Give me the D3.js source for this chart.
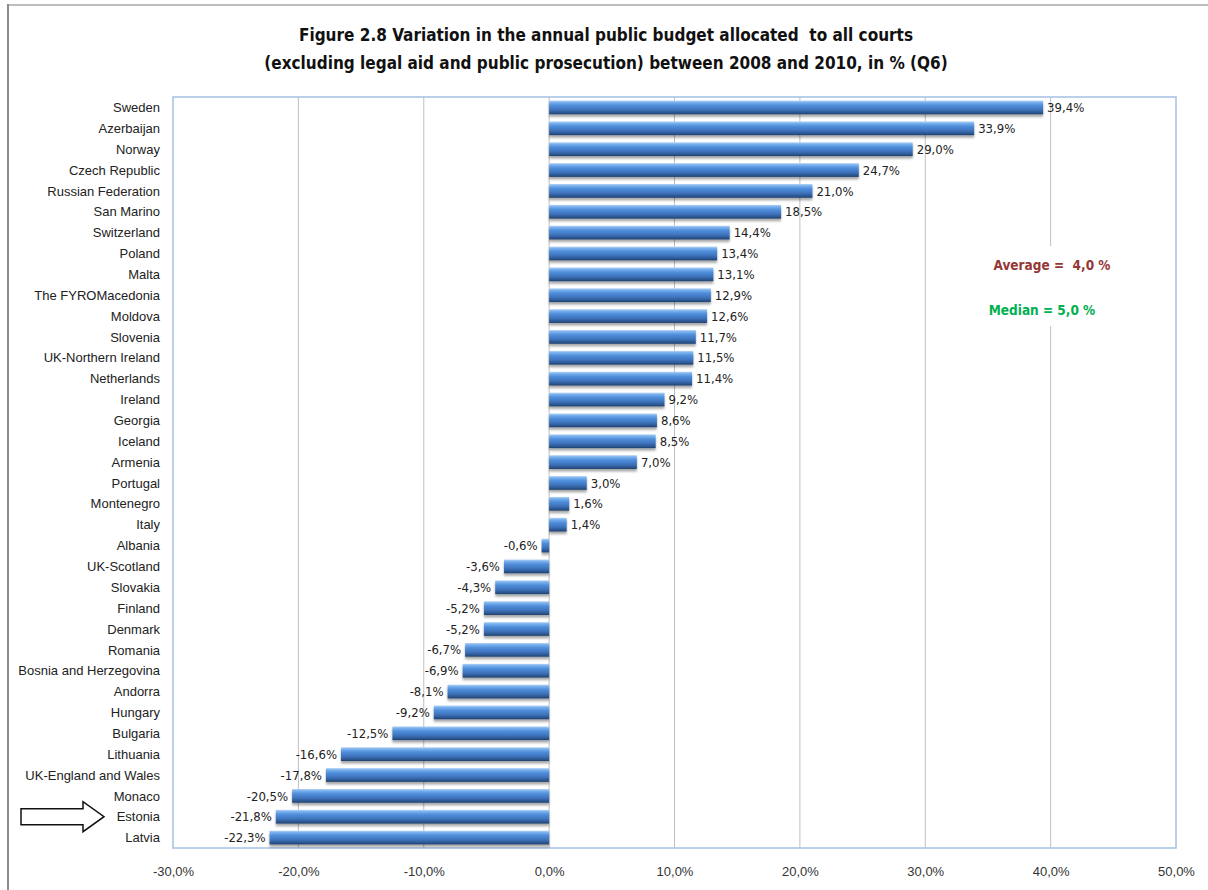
<!DOCTYPE html>
<html>
<head>
<meta charset="utf-8">
<script src="https://cdn.jsdelivr.net/npm/d3@7"></script>
<style>
  body { margin: 0; background: #fff; }
  svg { display: block; font-family: "DejaVu Sans Condensed", "Liberation Sans Narrow", sans-serif; }
  svg text { white-space: pre; }
  .grid line { stroke: #c0c0c0; stroke-width: 1; }
  .axis text { font-size: 13px; fill: #333; }
  .cat text { font-size: 13px; fill: #222; }
  .val { font-size: 13px; fill: #222; }
</style>
</head>
<body>
<svg class="chart"></svg>
<script>
// Chart data
const COUNTRIES = [
  "Sweden", "Azerbaijan", "Norway", "Czech Republic", "Russian Federation", "San Marino",
  "Switzerland", "Poland", "Malta", "The FYROMacedonia", "Moldova", "Slovenia",
  "UK-Northern Ireland", "Netherlands", "Ireland", "Georgia", "Iceland", "Armenia",
  "Portugal", "Montenegro", "Italy", "Albania", "UK-Scotland", "Slovakia",
  "Finland", "Denmark", "Romania", "Bosnia and Herzegovina", "Andorra", "Hungary",
  "Bulgaria", "Lithuania", "UK-England and Wales", "Monaco", "Estonia", "Latvia"
];
const VARIATION = [
  39.4, 33.9, 29.0, 24.7, 21.0, 18.5,
  14.4, 13.4, 13.1, 12.9, 12.6, 11.7,
  11.5, 11.4, 9.2, 8.6, 8.5, 7.0,
  3.0, 1.6, 1.4, -0.6, -3.6, -4.3,
  -5.2, -5.2, -6.7, -6.9, -8.1, -9.2,
  -12.5, -16.6, -17.8, -20.5, -21.8, -22.3
];
const X_TICKS = [-30, -20, -10, 0, 10, 20, 30, 40, 50];
const TITLE_LINES = [
  "Figure 2.8 Variation in the annual public budget allocated  to all courts",
  "(excluding legal aid and public prosecution) between 2008 and 2010, in % (Q6)"
];
const AVERAGE_TEXT = "Average =  4,0 %";
const MEDIAN_TEXT = "Median = 5,0 %";
const HIGHLIGHT = "Estonia";

const WIDTH = 1208, HEIGHT = 890;
const PLOT = { left: 173, right: 1176, top: 97, bottom: 848 };

const DATA = COUNTRIES.map((c, i) => ({ country: c, value: VARIATION[i] }));

const LOCALE = d3.formatLocale({ decimal: ",", thousands: ".", grouping: [3], currency: ["", "€"], minus: "-" });
const pct = v => LOCALE.format(".1f")(v) + "%";

const SVG = d3.select(".chart").attr("width", WIDTH).attr("height", HEIGHT);

const X_fxn = d3.scaleLinear().domain([-30, 50]).range([PLOT.left, PLOT.right]);
const Y_fxn = d3.scaleBand().domain(COUNTRIES).range([PLOT.top, PLOT.bottom]).paddingInner(0.34).paddingOuter(0.17);

// gradient + shadow for the excel-ish bars
const DEFS = SVG.append("defs");
const grad = DEFS.append("linearGradient").attr("id", "barGrad")
  .attr("x1", 0).attr("y1", 0).attr("x2", 0).attr("y2", 1);
[[0, "#b9d6f7"], [0.12, "#7db3ee"], [0.35, "#4f8edb"], [0.65, "#3f74bd"], [0.88, "#2b5690"], [1, "#1f3f6c"]]
  .forEach(s => grad.append("stop").attr("offset", s[0]).attr("stop-color", s[1]));
DEFS.append("filter").attr("id", "shadow").attr("x", "-5%").attr("y", "-30%").attr("width", "110%").attr("height", "180%")
  .append("feDropShadow").attr("dx", 0).attr("dy", 2.5).attr("stdDeviation", 1.2)
  .attr("flood-color", "#000").attr("flood-opacity", 0.35);

// outer frame
SVG.append("line").attr("x1", 7).attr("x2", WIDTH).attr("y1", 5).attr("y2", 5)
  .attr("stroke", "#bdbdbd").attr("stroke-width", 2);
SVG.append("line").attr("x1", 8).attr("x2", 8).attr("y1", 4).attr("y2", HEIGHT)
  .attr("stroke", "#8c8c8c").attr("stroke-width", 2);

// title
SVG.append("g").selectAll("text").data(TITLE_LINES).join("text")
  .attr("x", 606).attr("y", (d, i) => 41 + i * 28)
  .attr("text-anchor", "middle")
  .style("font-size", "17px").style("font-weight", "bold").style("fill", "#111")
  .text(d => d);

// gridlines
SVG.append("g").attr("class", "grid")
  .selectAll("line").data(X_TICKS.filter(t => t > -30 && t < 50)).join("line")
  .attr("x1", d => X_fxn(d)).attr("x2", d => X_fxn(d))
  .attr("y1", PLOT.top).attr("y2", PLOT.bottom);

// white box behind the average / median notes
SVG.append("rect").attr("x", 985).attr("y", 246).attr("width", 130).attr("height", 80).attr("fill", "#fff");
SVG.append("text").attr("x", 1052).attr("y", 270).attr("text-anchor", "middle")
  .style("font-size", "13.5px").style("font-weight", "bold").style("fill", "#953735")
  .text(AVERAGE_TEXT);
SVG.append("text").attr("x", 1042).attr("y", 315).attr("text-anchor", "middle")
  .style("font-size", "13.5px").style("font-weight", "bold").style("fill", "#00b050")
  .text(MEDIAN_TEXT);

// plot border
SVG.append("rect").attr("x", PLOT.left).attr("y", PLOT.top)
  .attr("width", PLOT.right - PLOT.left).attr("height", PLOT.bottom - PLOT.top)
  .attr("fill", "none").attr("stroke", "#a4c0e4").attr("stroke-width", 1.5);

// bars
SVG.append("g").selectAll("rect").data(DATA).join("rect")
  .attr("x", d => X_fxn(Math.min(0, d.value)))
  .attr("y", d => Y_fxn(d.country))
  .attr("width", d => Math.abs(X_fxn(d.value) - X_fxn(0)))
  .attr("height", Y_fxn.bandwidth())
  .attr("fill", "url(#barGrad)")
  .attr("filter", "url(#shadow)");

// value labels
SVG.append("g").selectAll("text").data(DATA).join("text")
  .attr("class", "val")
  .attr("x", d => d.value >= 0 ? X_fxn(d.value) + 4 : X_fxn(d.value) - 4)
  .attr("y", d => Y_fxn(d.country) + Y_fxn.bandwidth() / 2)
  .attr("dy", "0.36em")
  .attr("text-anchor", d => d.value >= 0 ? "start" : "end")
  .text(d => pct(d.value));

// category axis
SVG.append("g").attr("class", "cat")
  .attr("transform", `translate(${PLOT.left - 13}, 0)`)
  .call(d3.axisLeft(Y_fxn).tickSize(0).tickPadding(0))
  .call(g => g.select(".domain").remove())
  .selectAll("text").attr("dy", "0.36em");

// value axis
SVG.append("g").attr("class", "axis")
  .attr("transform", `translate(0, ${PLOT.bottom + 23})`)
  .call(d3.axisBottom(X_fxn).tickValues(X_TICKS).tickSize(0).tickPadding(0).tickFormat(pct))
  .call(g => g.select(".domain").remove())
  .selectAll("text").attr("dy", "0.36em");

// outline arrow pointing at the highlighted country
const ay = Y_fxn(HIGHLIGHT) + Y_fxn.bandwidth() / 2;
const arrow = d3.path();
arrow.moveTo(21, ay - 8);
arrow.lineTo(83, ay - 8);
arrow.lineTo(83, ay - 15);
arrow.lineTo(104, ay);
arrow.lineTo(83, ay + 15);
arrow.lineTo(83, ay + 8);
arrow.lineTo(21, ay + 8);
arrow.closePath();
SVG.append("path").attr("d", arrow.toString())
  .attr("fill", "#fff").attr("stroke", "#111").attr("stroke-width", 1.5);
</script>
</body>
</html>
